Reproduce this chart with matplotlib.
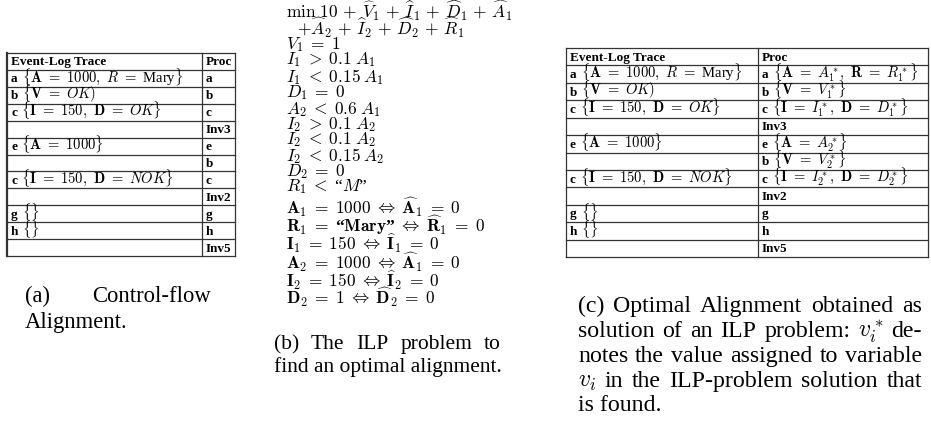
import matplotlib.pyplot as plt

plt.rcParams['mathtext.fontset'] = 'cm'
plt.rcParams['font.family'] = 'Liberation Serif'

# --- table contents (a) and (c) ---
header = ['Event-Log Trace', 'Proc']
log_events = ['a', 'b', 'c', '', 'e', '', 'c', '', 'g', 'h', '']
log_attrs = [r'$\{\mathbf{A}\ =\ 1000,\ R\ =\ $Mary$\}$',
             r'$\{\mathbf{V}\ =\ OK)$',
             r'$\{\mathbf{I}\ =\ 150,\ \mathbf{D}\ =\ OK\}$',
             '',
             r'$\{\mathbf{A}\ =\ 1000\}$',
             '',
             r'$\{\mathbf{I}\ =\ 150,\ \mathbf{D}\ =\ NOK\}$',
             '',
             r'$\{\}$',
             r'$\{\}$',
             '']
proc_events = ['a', 'b', 'c', 'Inv3', 'e', 'b', 'c', 'Inv2', 'g', 'h', 'Inv5']
proc_attrs_a = [''] * 11
proc_attrs_c = [r'$\{\mathbf{A}\ =\ A_1^*,\ \mathbf{R}\ =\ R_1^*\}$',
                r'$\{\mathbf{V}\ =\ V_1^*\}$',
                r'$\{\mathbf{I}\ =\ I_1^*,\ \mathbf{D}\ =\ D_1^*\}$',
                '',
                r'$\{\mathbf{A}\ =\ A_2^*\}$',
                r'$\{\mathbf{V}\ =\ V_2^*\}$',
                r'$\{\mathbf{I}\ =\ I_2^*,\ \mathbf{D}\ =\ D_2^*\}$',
                '', '', '', '']

# --- ILP problem (b) ---
ilp_lines = [
    r'$\min\ 10\,+\,\widehat{V}_1\,+\,\widehat{I}_1\,+\,\widehat{D}_1\,+\,\widehat{A}_1$',
    r'$+\widehat{A}_2\,+\,\widehat{I}_2\,+\,\widehat{D}_2\,+\,\widehat{R}_1$',
    r'$V_1\;=\;1$',
    r'$I_1\;>\;0.1\;A_1$',
    r'$I_1\;<\;0.15\;A_1$',
    r'$D_1\;=\;0$',
    r'$A_2\;<\;0.6\;A_1$',
    r'$I_2\;>\;0.1\;A_2$',
    r'$I_2\;<\;0.1\;A_2$',
    r'$I_2\;<\;0.15\;A_2$',
    r'$D_2\;=\;0$',
    r'$R_1\;<\;$“$M$”',
    r'$\mathbf{A_1\;=\;1000\;}\Leftrightarrow\;\widehat{\mathbf{A}}_\mathbf{1}\;=\;\mathbf{0}$',
    r'$\mathbf{R_1\;=\;}$“$\mathbf{Mary}$”$\;\Leftrightarrow\;\widehat{\mathbf{R}}_\mathbf{1}\;=\;\mathbf{0}$',
    r'$\mathbf{I_1\;=\;150\;}\Leftrightarrow\;\widehat{\mathbf{I}}_\mathbf{1}\;=\;\mathbf{0}$',
    r'$\mathbf{A_2\;=\;1000\;}\Leftrightarrow\;\widehat{\mathbf{A}}_\mathbf{1}\;=\;\mathbf{0}$',
    r'$\mathbf{I_2\;=\;150\;}\Leftrightarrow\;\widehat{\mathbf{I}}_\mathbf{2}\;=\;\mathbf{0}$',
    r'$\mathbf{D_2\;=\;1\;}\Leftrightarrow\;\widehat{\mathbf{D}}_\mathbf{2}\;=\;\mathbf{0}$',
]
ilp_y = [11, 28, 45, 60, 77, 93, 110, 125, 140, 156, 172, 187,
         207, 225, 243, 262, 280, 297]

cap_a = ['(a) Control-flow', 'Alignment.']
cap_b = ['(b) The ILP problem to', 'find an optimal alignment.']
cap_c = ['(c) Optimal Alignment obtained as',
         'solution of an ILP problem: $v_i^*$ de-',
         'notes the value assigned to variable',
         '$v_i$ in the ILP-problem solution that',
         'is found.']

fig = plt.figure(figsize=(9.31, 4.32), dpi=100)
ax = fig.add_axes([0, 0, 1, 1])
ax.set_xlim(0, 931)
ax.set_ylim(432, 0)
ax.axis('off')
rend = fig.canvas.get_renderer()

line_col = '#333333'


def cell(x, y, label, attr):
    t = ax.text(x, y, label, fontsize=9.5, weight='bold', va='baseline')
    if attr:
        w = t.get_window_extent(rend).width
        ax.text(x + w + 4, y, attr, fontsize=10.5, va='baseline')


def draw_table(x0, xd, x1, top, bottom, lev, lat, rev, rat, left_lw=0.9):
    n = len(lev) + 1
    h = (bottom - top) / n
    for i in range(n + 1):
        ax.plot([x0, x1], [top + i * h] * 2, color=line_col, lw=0.9)
    ax.plot([x0, x0], [top, bottom], color=line_col, lw=left_lw)
    for x in (xd, x1):
        ax.plot([x, x], [top, bottom], color=line_col, lw=0.9)
    cell(x0 + 4, top + h * 0.5 + 4, header[0], '')
    cell(xd + 4, top + h * 0.5 + 4, header[1], '')
    for i in range(len(lev)):
        y = top + (i + 1.5) * h + 4
        if lev[i]:
            cell(x0 + 4, y, lev[i], lat[i])
        if rev[i]:
            cell(xd + 4, y, rev[i], rat[i])


def justify(text, x0, x1, y, size):
    words = text.split(' ')
    arts = [ax.text(x0, y, w, fontsize=size, va='baseline') for w in words]
    ws = [a.get_window_extent(rend).width for a in arts]
    gap = (x1 - x0 - sum(ws)) / (len(words) - 1)
    x = x0
    for a, w in zip(arts, ws):
        a.set_x(x)
        x += w + gap


draw_table(7, 202, 235, 53, 256, log_events, log_attrs,
           proc_events, proc_attrs_a, left_lw=1.6)
draw_table(566, 758, 928, 48, 257, log_events, log_attrs,
           proc_events, proc_attrs_c)

for i, (s, y) in enumerate(zip(ilp_lines, ilp_y)):
    x = 297 if i == 1 else 286
    ax.text(x, y, s, fontsize=12.5, va='center',
            weight='bold' if i == 13 else 'normal')

# captions
justify(cap_a[0], 25, 211, 302, 16.3)
ax.text(25, 328, cap_a[1], fontsize=16.3, va='baseline')
justify(cap_b[0], 274, 501, 349, 15.5)
ax.text(274, 372, cap_b[1], fontsize=15.5, va='baseline')
cap_c_y = [312, 337, 362, 387, 411]
for i, (s, y) in enumerate(zip(cap_c, cap_c_y)):
    if i < len(cap_c) - 1:
        justify(s, 578, 922, y, 17.2)
    else:
        ax.text(578, y, s, fontsize=17.2, va='baseline')

fig.savefig('out.png', dpi=100)
